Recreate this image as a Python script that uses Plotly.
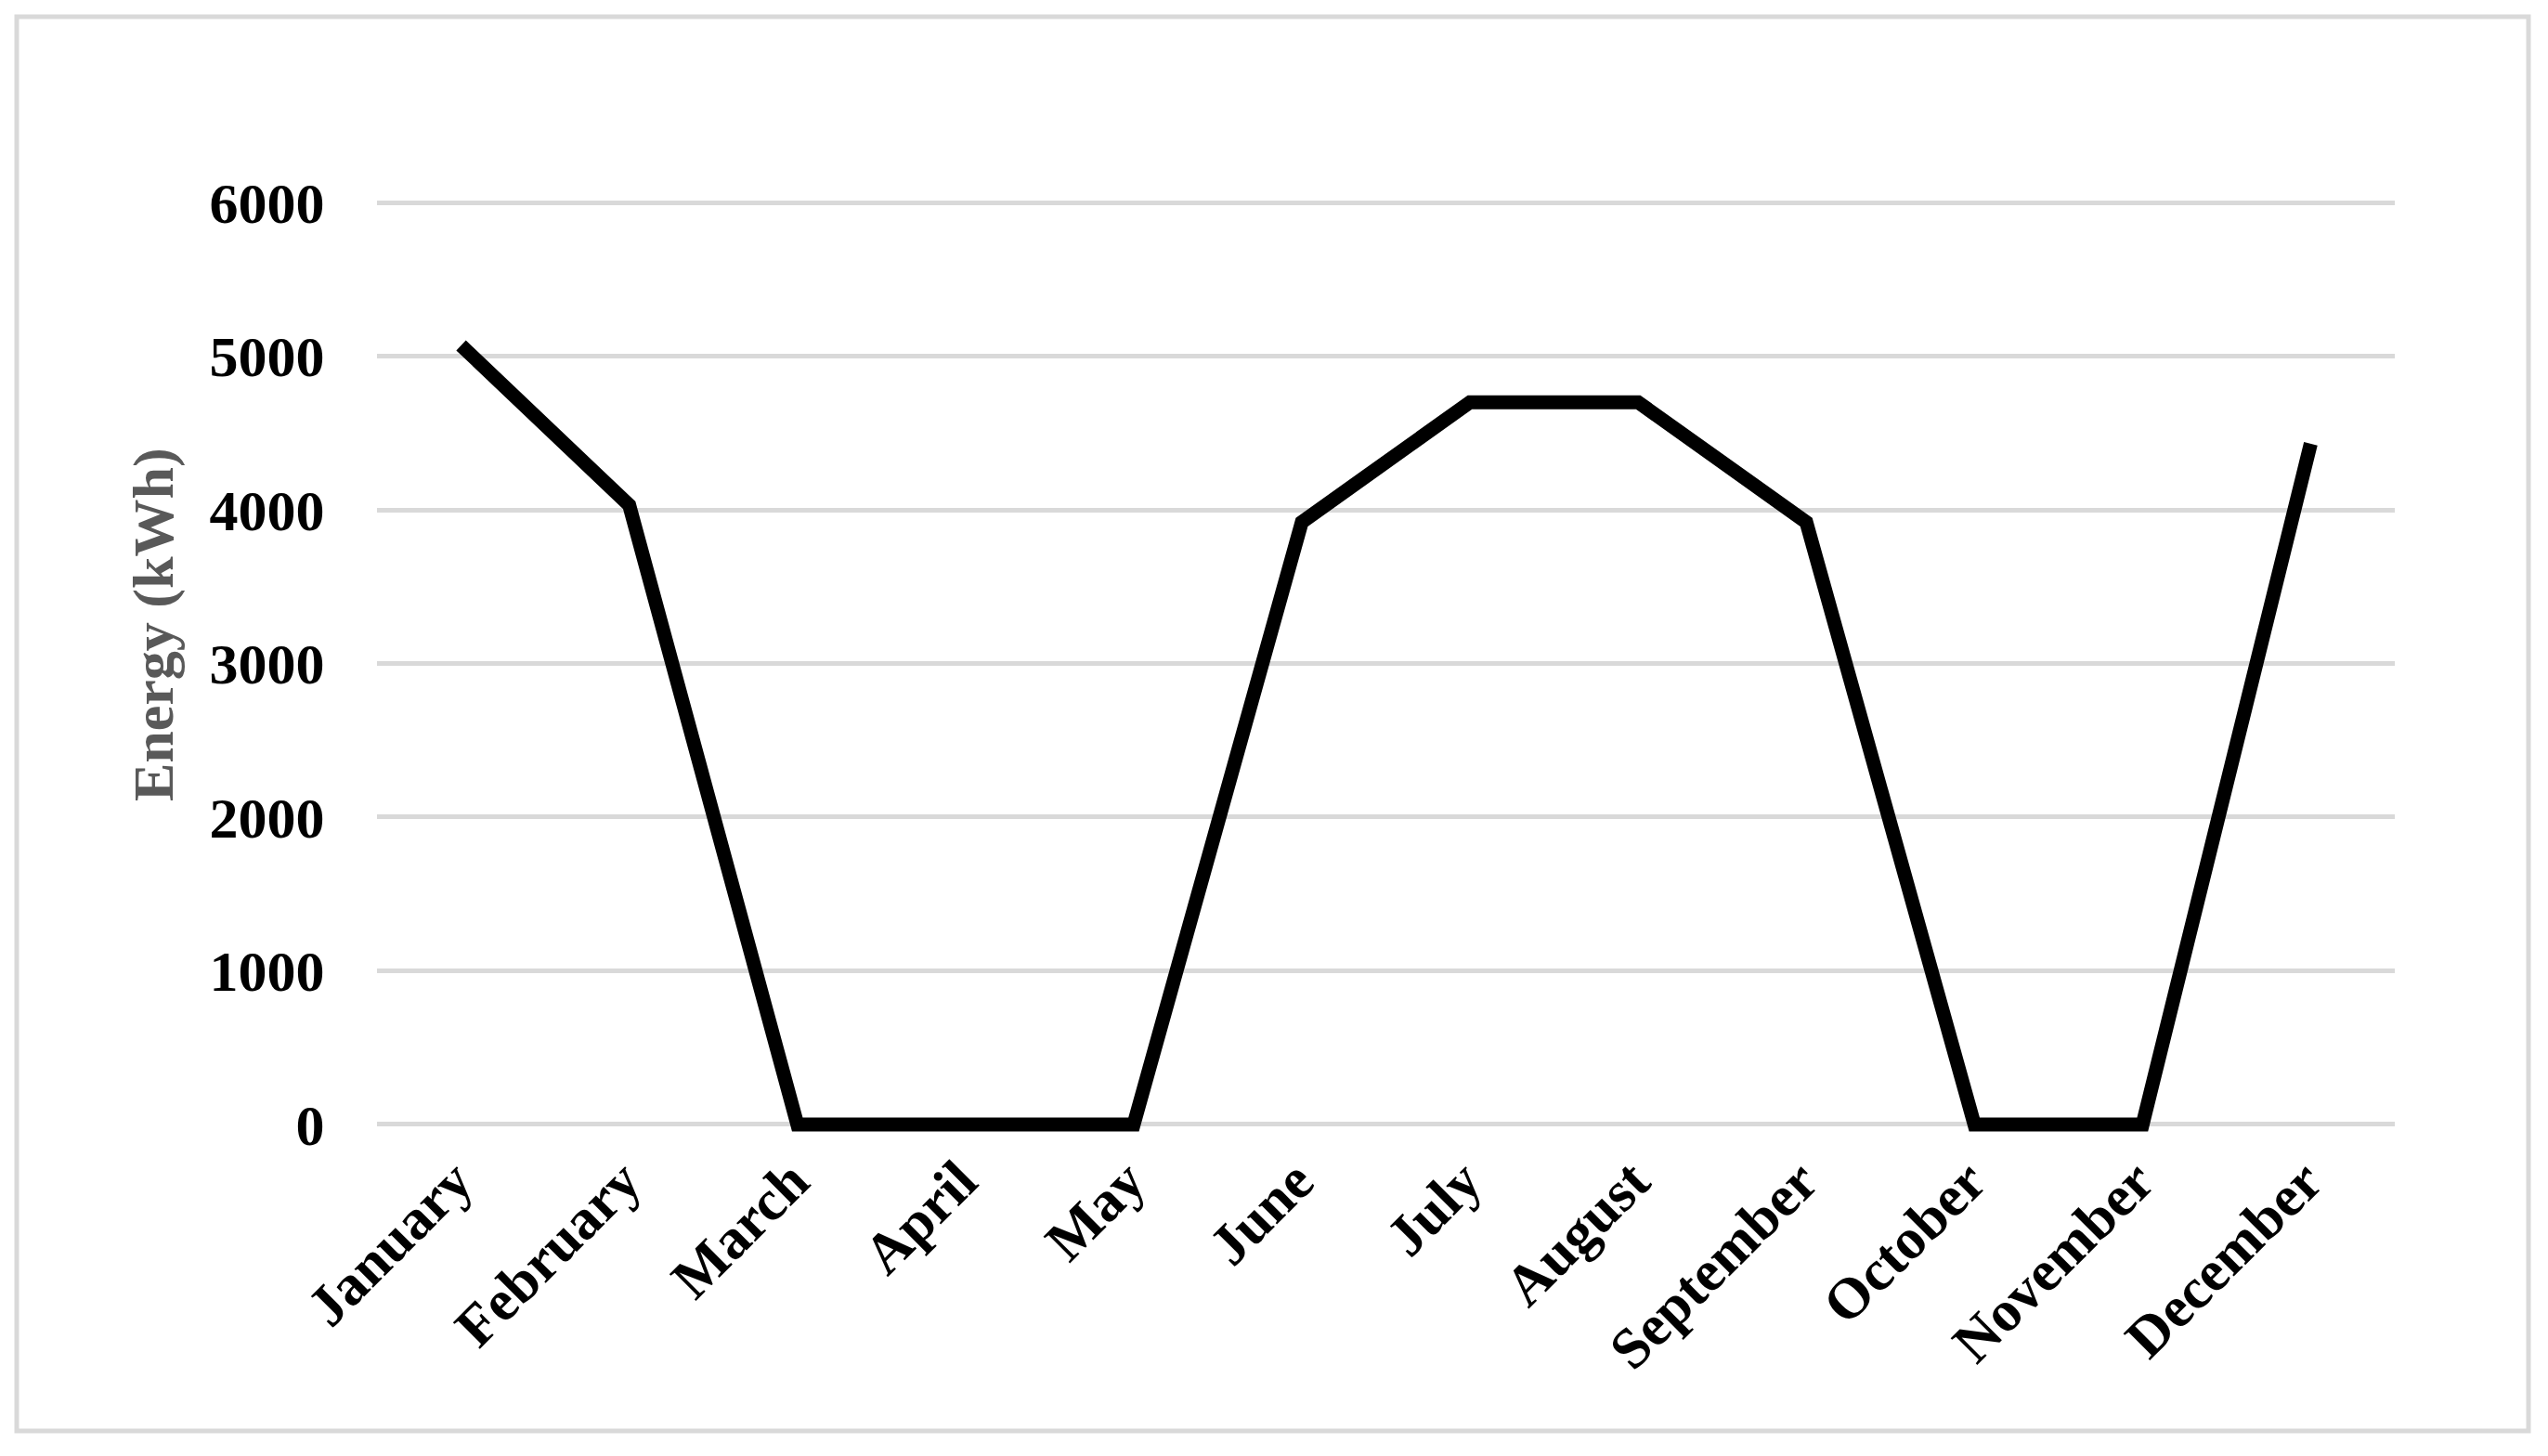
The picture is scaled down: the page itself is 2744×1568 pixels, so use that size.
import plotly.graph_objects as go

months = ["January", "February", "March", "April", "May", "June",
          "July", "August", "September", "October", "November", "December"]
energy_kwh = [5070, 4030, 0, 0, 0, 3920, 4700, 4700, 3920, 0, 0, 4430]
y_ticks = [0, 1000, 2000, 3000, 4000, 5000, 6000]

# the page body adds an 8px margin, so the figure is 16px smaller
# and every pixel position below is measured from the figure corner
W, H = 2728, 1552
OFF = 8
left, right, top, bottom = 406 - OFF, 2579 - OFF, 185 - OFF, 1244 - OFF
FONT = "Liberation Serif"


def px_x(px):
    return (px - OFF - left) / (right - left)


def px_y(py):
    return (bottom - (py - OFF)) / (bottom - top)


fig = go.Figure()
fig.add_trace(go.Scatter(
    x=months,
    y=energy_kwh,
    mode="lines",
    line=dict(color="black", width=15),
    hoverinfo="skip",
))

fig.update_layout(
    template="none",
    width=W,
    height=H,
    margin=dict(l=left, r=W - right, t=top, b=H - bottom, autoexpand=False),
    paper_bgcolor="white",
    plot_bgcolor="white",
    showlegend=False,
    font=dict(family=FONT, size=62, color="black"),
    xaxis=dict(
        type="category",
        range=[-0.5, 11.5],
        tickangle=-45,
        tickfont=dict(family=FONT, size=62, color="black", weight="bold"),
        showgrid=False,
        showline=False,
        zeroline=False,
        ticks="",
        ticklabelstandoff=-22,
        ticklabelshift=-6,
    ),
    yaxis=dict(
        range=[-200, 6200],
        tickvals=y_ticks,
        ticktext=[str(v) for v in y_ticks],
        tickfont=dict(family=FONT, size=62, color="black", weight="bold"),
        showgrid=True,
        gridcolor="#d9d9d9",
        gridwidth=5,
        zeroline=True,
        zerolinecolor="#d9d9d9",
        zerolinewidth=5,
        showline=False,
        ticks="outside",
        ticklen=43,
        tickcolor="rgba(0,0,0,0)",
    ),
)

# y axis title
fig.add_annotation(
    text="Energy (kWh)",
    xref="paper", yref="paper",
    x=px_x(165), y=px_y(673),
    xanchor="center", yanchor="middle",
    showarrow=False,
    textangle=-90,
    font=dict(family=FONT, size=62, color="#595959", weight="bold"),
)

# chart border
fig.add_shape(
    type="rect",
    xref="paper", yref="paper",
    x0=px_x(18), x1=px_x(2723),
    y0=px_y(1541), y1=px_y(18),
    line=dict(color="#d9d9d9", width=5),
    layer="below",
)

fig.write_html("out.html")
